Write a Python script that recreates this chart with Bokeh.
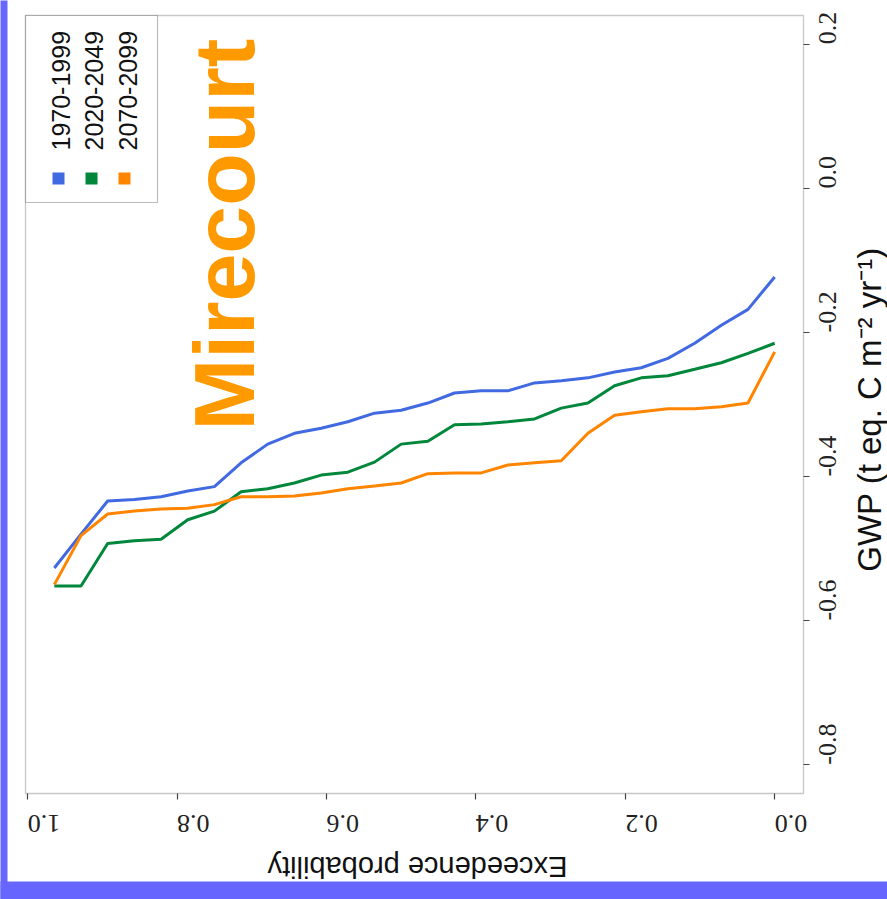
import math
from bokeh.plotting import figure
from bokeh.models import Range1d, FixedTicker, Label, BoxAnnotation, PrintfTickFormatter, LinearAxis
from bokeh.embed import file_html
from bokeh.resources import INLINE

# ---------------- data ----------------
prob = [0.0, 0.0357, 0.0714, 0.1071, 0.1429, 0.1786, 0.2143, 0.25, 0.2857, 0.3214,
        0.3571, 0.3929, 0.4286, 0.4643, 0.5, 0.5357, 0.5714, 0.6071, 0.6429, 0.6786,
        0.7143, 0.75, 0.7857, 0.8214, 0.8571, 0.8929, 0.9286, 0.9643]

gwp_1970_1999 = [-0.123, -0.168, -0.190, -0.215, -0.236, -0.249, -0.255, -0.263, -0.267, -0.270,
                 -0.281, -0.281, -0.284, -0.298, -0.308, -0.312, -0.324, -0.333, -0.340, -0.355,
                 -0.381, -0.414, -0.420, -0.428, -0.432, -0.434, -0.480, -0.527]
gwp_2020_2049 = [-0.215, -0.229, -0.242, -0.251, -0.260, -0.263, -0.274, -0.298, -0.305, -0.320,
                 -0.324, -0.327, -0.328, -0.351, -0.355, -0.380, -0.394, -0.398, -0.409, -0.417,
                 -0.421, -0.448, -0.460, -0.487, -0.489, -0.493, -0.552, -0.552]
gwp_2070_2099 = [-0.227, -0.298, -0.303, -0.306, -0.306, -0.310, -0.315, -0.340, -0.378, -0.381,
                 -0.384, -0.395, -0.395, -0.396, -0.409, -0.413, -0.417, -0.423, -0.427, -0.428,
                 -0.428, -0.439, -0.444, -0.445, -0.448, -0.452, -0.482, -0.550]

periods = ["1970-1999", "2020-2049", "2070-2099"]
line_colors = ["#4169E1", "#00873C", "#FF8500"]
x_ticks = [0.0, 0.2, 0.4, 0.6, 0.8, 1.0]
y_ticks = [-0.8, -0.6, -0.4, -0.2, 0.0, 0.2]
title_text = "Mirecourt"
xlabel_text = "Exceedence  probability"
ylabel_text = "GWP (t eq. C m\u207b\u00b2 yr\u207b\u00b9)"

# ---------------- geometry (page pixels -> data) ----------------
W, H = 887, 899
BOX_L, BOX_T, BOX_W, BOX_H = 25, 15, 778, 778   # visible plot box in page pixels
X0, X1 = 1.0029, -0.0386      # probability at box left / right (reversed axis)
YT, YB = 0.24, -0.84          # GWP at box top / bottom
KX = (X1 - X0) / BOX_W
KY = (YB - YT) / BOX_H

def dx(px):
    return X0 + (px - BOX_L) * KX

def dy(py):
    return YT + (py - BOX_T) * KY

p = figure(width=W, height=H, output_backend="svg", toolbar_location=None,
           x_range=Range1d(dx(0), dx(W)), y_range=Range1d(dy(H), dy(0)),
           x_axis_location=None, y_axis_location=None, min_border=0)
p.title.visible = False
p.xgrid.visible = False
p.ygrid.visible = False
p.background_fill_color = "white"
p.border_fill_color = "white"
p.outline_line_color = None

xaxis = LinearAxis(fixed_location=YB)
yaxis = LinearAxis(fixed_location=X1)
p.add_layout(xaxis, "below")
p.add_layout(yaxis, "right")

for ax, ticks in ((xaxis, x_ticks), (yaxis, y_ticks)):
    ax.ticker = FixedTicker(ticks=ticks)
    ax.formatter = PrintfTickFormatter(format="%.1f")
    ax.axis_line_color = None
    ax.major_tick_out = 6
    ax.major_tick_in = 0
    ax.minor_tick_out = 0
    ax.minor_tick_in = 0
    ax.major_tick_line_color = "#444444"
    ax.major_tick_line_width = 1.2
    ax.major_label_text_font = "Liberation Serif"
    ax.major_label_text_font_size = "26px"
    ax.major_label_text_color = "#222222"

xaxis.major_label_orientation = math.pi
xaxis.major_label_standoff = 24
yaxis.major_label_orientation = math.pi / 2
yaxis.major_label_standoff = 18

# plot box
p.add_layout(BoxAnnotation(left=dx(BOX_L), right=dx(BOX_L + BOX_W),
                           top=dy(BOX_T), bottom=dy(BOX_T + BOX_H),
                           fill_alpha=0, line_color="#444444", line_width=1.3))

for vals, col in zip([gwp_1970_1999, gwp_2020_2049, gwp_2070_2099], line_colors):
    p.line(prob, vals, line_color=col, line_width=3)

BASE_SHIFT = 0.4   # bokeh places the alphabetic baseline ~0.4 em below the anchor

# title inside plot (reads bottom to top)
fs = 86
p.add_layout(Label(x=dx(258 - BASE_SHIFT * fs), y=dy(430), text=title_text, angle=math.pi / 2,
                   text_font="Liberation Sans", text_font_style="bold",
                   text_font_size=f"{fs}px", text_color="#FF9900",
                   text_align="left", text_baseline="alphabetic"))

# legend
p.add_layout(BoxAnnotation(left=dx(25), right=dx(157), top=dy(15), bottom=dy(202),
                           fill_color="white", fill_alpha=1.0,
                           line_color="#222222", line_width=1.2))
sq_x = [58, 91, 124]
txt_x = [70, 103, 137]
fs = 25
for name, col, sx, tx in zip(periods, line_colors, sq_x, txt_x):
    p.add_layout(BoxAnnotation(left=dx(sx - 6), right=dx(sx + 6), top=dy(172), bottom=dy(184),
                               fill_color=col, fill_alpha=1.0, line_color=None))
    p.add_layout(Label(x=dx(tx - BASE_SHIFT * fs), y=dy(150), text=name, angle=math.pi / 2,
                       text_font="Liberation Sans", text_font_size=f"{fs}px",
                       text_color="#111111", text_align="left", text_baseline="alphabetic"))

# axis titles
fs = 29
p.add_layout(Label(x=dx(413), y=dy(855 + BASE_SHIFT * fs), text=xlabel_text, angle=math.pi,
                   text_font="Liberation Sans", text_font_size=f"{fs}px",
                   text_color="#111111", text_align="center", text_baseline="alphabetic"))
fs = 33
p.add_layout(Label(x=dx(882 - BASE_SHIFT * fs), y=dy(409), text=ylabel_text, angle=math.pi / 2,
                   text_font="Liberation Sans", text_font_size=f"{fs}px",
                   text_color="#111111", text_align="center", text_baseline="alphabetic"))

# blue page border strips
p.add_layout(BoxAnnotation(left=dx(-5), right=dx(7), top=dy(-5), bottom=dy(H + 5),
                           fill_color="#6666FF", fill_alpha=1.0, line_color=None))
p.add_layout(BoxAnnotation(left=dx(-5), right=dx(W + 5), top=dy(881), bottom=dy(H + 5),
                           fill_color="#6666FF", fill_alpha=1.0, line_color=None))

open("out.html", "w").write(file_html(p, INLINE))
